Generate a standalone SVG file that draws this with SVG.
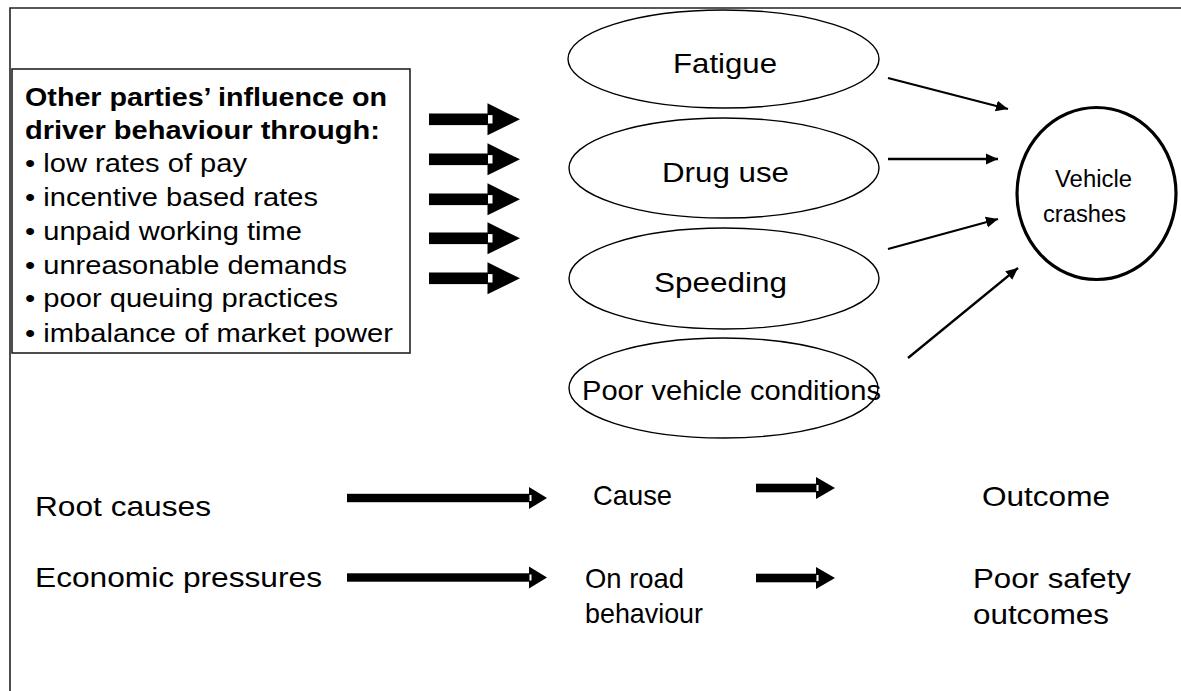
<svg xmlns="http://www.w3.org/2000/svg" xmlns:xlink="http://www.w3.org/1999/xlink" width="1181" height="691" viewBox="0 0 1181 691">
<style>
text{font-family:"Liberation Sans",Arial,Helvetica,sans-serif;fill:#000}
.t26{font-size:27.5px}
.t25{font-size:25.5px}
.tb{font-size:26px;font-weight:bold}
.t22{font-size:23px}
.ell{fill:#fff;stroke:#000;stroke-width:1.4}
.thin{stroke:#000;stroke-width:2.3;fill:none;marker-end:url(#ah)}
.frame{stroke:#222;stroke-width:1.6;fill:none}
</style>
<defs>
<marker id="ah" markerUnits="userSpaceOnUse" markerWidth="14" markerHeight="12" refX="12" refY="6" orient="auto">
<path d="M0,0.5 L12,6 L0,11.5 z" fill="#000"/>
</marker>
<g id="blk">
<rect x="0" y="-5.8" width="61" height="11.6" fill="#000"/>
<path d="M58.5,-16 L91,0 L58.5,16 z" fill="#000"/>
<rect x="59" y="-4.2" width="4.5" height="8.4" fill="#fff"/>
</g>
<g id="blkL">
<rect x="0" y="-4.2" width="184" height="8.4" fill="#000"/>
<path d="M182,-11 L200,0 L182,11 z" fill="#000"/>
<rect x="182.5" y="-3" width="2" height="6" fill="#fff"/>
</g>
<g id="blkS">
<rect x="0" y="-4.3" width="62" height="8.6" fill="#000"/>
<path d="M60,-11 L79,0 L60,11 z" fill="#000"/>
<rect x="60.5" y="-3" width="2" height="6" fill="#fff"/>
</g>
</defs>
<rect width="1181" height="691" fill="#fff"/>
<path class="frame" d="M10,691 L10,8 L1181,8"/>

<g id="influence-box">
<rect x="12" y="69" width="398" height="284" fill="#fff" stroke="#222" stroke-width="1.6"/>
<text class="tb" x="25" y="106" textLength="362" lengthAdjust="spacingAndGlyphs">Other parties’ influence on</text>
<text class="tb" x="25" y="139" textLength="355" lengthAdjust="spacingAndGlyphs">driver behaviour through:</text>
<text class="t25" x="25" y="172" textLength="222" lengthAdjust="spacingAndGlyphs">• low rates of pay</text>
<text class="t25" x="25" y="206" textLength="293" lengthAdjust="spacingAndGlyphs">• incentive based rates</text>
<text class="t25" x="25" y="240" textLength="277" lengthAdjust="spacingAndGlyphs">• unpaid working time</text>
<text class="t25" x="25" y="274" textLength="322" lengthAdjust="spacingAndGlyphs">• unreasonable demands</text>
<text class="t25" x="25" y="307" textLength="313" lengthAdjust="spacingAndGlyphs">• poor queuing practices</text>
<text class="t25" x="25" y="342" textLength="368" lengthAdjust="spacingAndGlyphs">• imbalance of market power</text>
</g>

<g id="fatigue">
<ellipse class="ell" cx="723.5" cy="59" rx="155.5" ry="49"/>
<text class="t26" x="673" y="73" textLength="104" lengthAdjust="spacingAndGlyphs">Fatigue</text>
</g>
<g id="drug-use">
<ellipse class="ell" cx="724" cy="168" rx="155" ry="50"/>
<text class="t26" x="662" y="182" textLength="127" lengthAdjust="spacingAndGlyphs">Drug use</text>
</g>
<g id="speeding">
<ellipse class="ell" cx="724" cy="278.5" rx="155" ry="50.5"/>
<text class="t26" x="654" y="292" textLength="133" lengthAdjust="spacingAndGlyphs">Speeding</text>
</g>
<g id="poor-vehicle-conditions">
<ellipse class="ell" cx="723.5" cy="388" rx="154.5" ry="50"/>
<text class="t26" x="582" y="400" textLength="299" lengthAdjust="spacingAndGlyphs">Poor vehicle conditions</text>
</g>
<g id="vehicle-crashes">
<ellipse cx="1096.5" cy="193.5" rx="79.5" ry="86" fill="#fff" stroke="#000" stroke-width="3.2"/>
<text class="t22" x="1055" y="187" textLength="77" lengthAdjust="spacingAndGlyphs">Vehicle</text>
<text class="t22" x="1043" y="222" textLength="83" lengthAdjust="spacingAndGlyphs">crashes</text>
</g>

<g id="labels">
<text class="t26" x="35" y="516" textLength="176" lengthAdjust="spacingAndGlyphs">Root causes</text>
<text class="t26" x="35" y="587" textLength="287" lengthAdjust="spacingAndGlyphs">Economic pressures</text>
<text class="t26" x="593" y="505" textLength="79" lengthAdjust="spacingAndGlyphs">Cause</text>
<text class="t26" x="585" y="588" textLength="99" lengthAdjust="spacingAndGlyphs">On road</text>
<text class="t26" x="585" y="623" textLength="118" lengthAdjust="spacingAndGlyphs">behaviour</text>
<text class="t26" x="982" y="506" textLength="128" lengthAdjust="spacingAndGlyphs">Outcome</text>
<text class="t26" x="973" y="588" textLength="158" lengthAdjust="spacingAndGlyphs">Poor safety</text>
<text class="t26" x="973" y="624" textLength="136" lengthAdjust="spacingAndGlyphs">outcomes</text>
</g>

<g id="connectors">
<use xlink:href="#blk" href="#blk" transform="translate(429,119.3)"/>
<use xlink:href="#blk" href="#blk" transform="translate(429,159.3)"/>
<use xlink:href="#blk" href="#blk" transform="translate(429,199.3)"/>
<use xlink:href="#blk" href="#blk" transform="translate(429,238.3)"/>
<use xlink:href="#blk" href="#blk" transform="translate(429,278.3)"/>
<line class="thin" x1="888" y1="78" x2="1008" y2="109"/>
<line class="thin" x1="888" y1="159" x2="998" y2="159"/>
<line class="thin" x1="888" y1="249" x2="998" y2="219"/>
<line class="thin" x1="908" y1="358" x2="1018" y2="268"/>
<use xlink:href="#blkL" href="#blkL" transform="translate(347,498)"/>
<use xlink:href="#blkL" href="#blkL" transform="translate(347,577.5)"/>
<use xlink:href="#blkS" href="#blkS" transform="translate(756,488)"/>
<use xlink:href="#blkS" href="#blkS" transform="translate(756,578)"/>
</g>
</svg>
